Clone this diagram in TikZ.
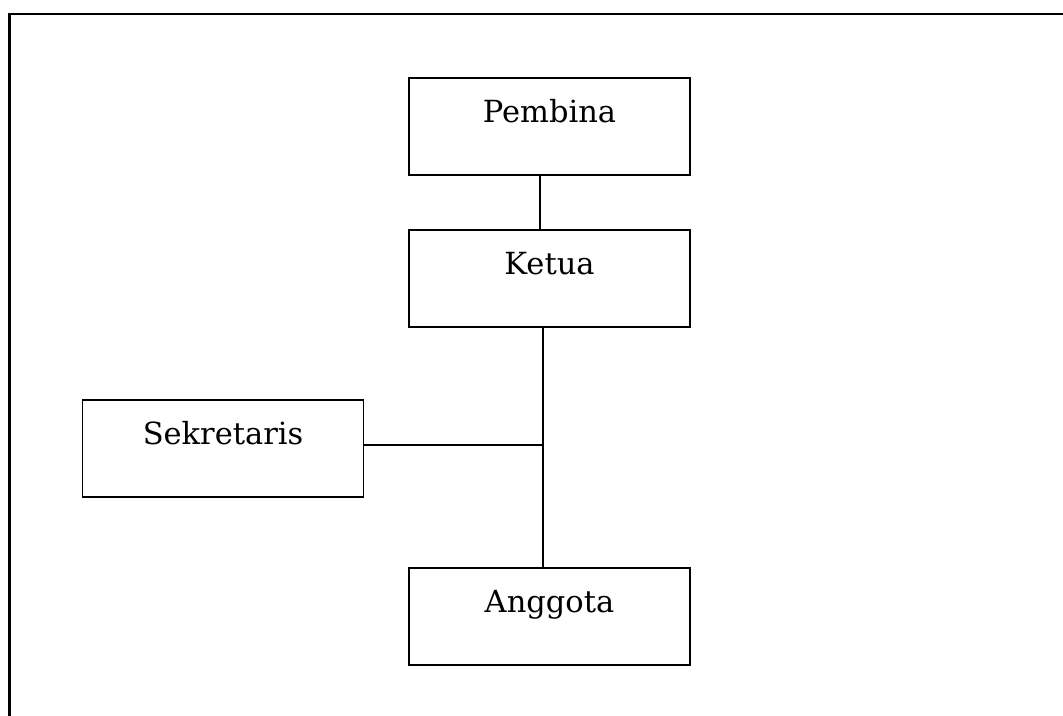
\documentclass[tikz,border=0pt]{standalone}
\usepackage{fontspec}
\setmainfont{DejaVu Serif}
\begin{document}
\begin{tikzpicture}[x=1pt,y=-1pt,
  orgbox/.style={draw=black, line width=1.6pt, rectangle, inner sep=0pt,
    minimum width=281pt, text height=44pt, text depth=53pt,
    font=\fontsize{30.5}{36}\selectfont, align=center},
  conn/.style={draw=black, line width=1.6pt},
  frame/.style={draw=black, line width=2.4pt}]
\useasboundingbox (0,0) rectangle (1063,715);
\fill[white] (0,0) rectangle (1063,715);
\coordinate (fbl) at (9.5,716);
\coordinate (ftl) at (9.5,14);
\coordinate (ftr) at (1064,14);
\draw[frame] (fbl) -- (ftl) -- (ftr);
\node[orgbox] (pembina) at (549.5,126.5) {Pembina};
\node[orgbox] (ketua) at (549.5,278.5) {Ketua};
\node[orgbox] (sekretaris) at (223,448.5) {Sekretaris};
\node[orgbox] (anggota) at (549.5,616.5) {Anggota};
\coordinate (J) at (543,445);
\draw[conn] ([xshift=-9.5pt]pembina.south) -- ([xshift=-9.5pt]ketua.north);
\draw[conn] (ketua.south -| J) -- (anggota.north -| J);
\draw[conn] (sekretaris.east |- J) -- (J);
\end{tikzpicture}
\end{document}
